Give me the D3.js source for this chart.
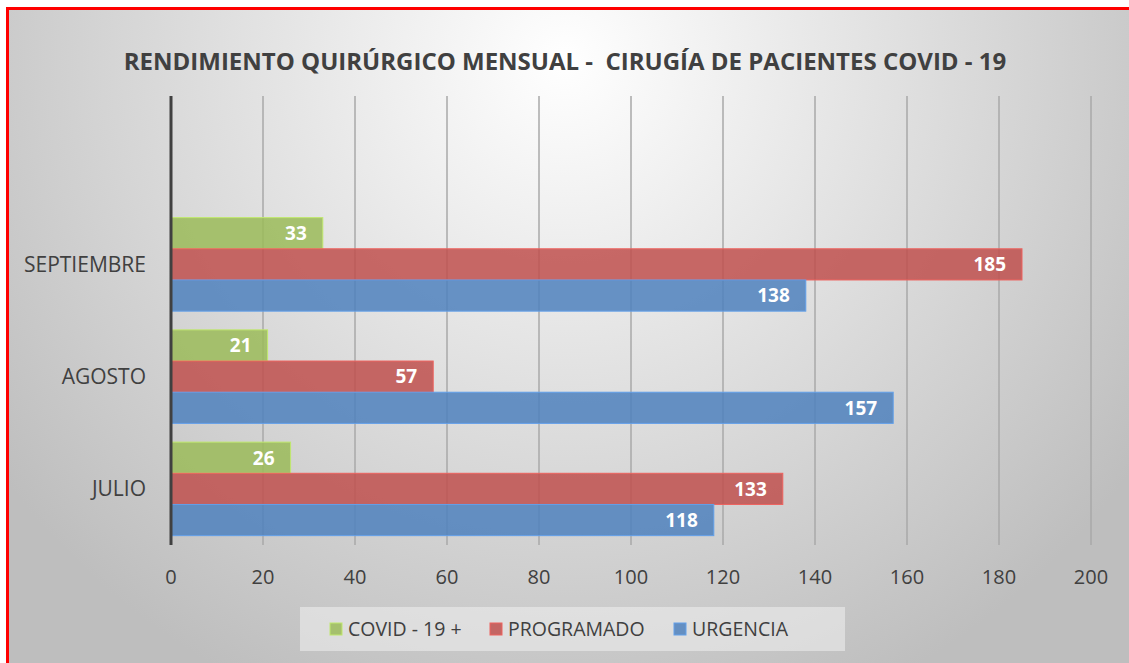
<!doctype html>
<html lang="es">
  <head>
    <meta charset="utf-8">
    <title>Rendimiento quirúrgico mensual</title>
    <script src="https://d3js.org/d3.v7.min.js"></script>
    <style>
    body { margin: 0; }
    text { font-family: "Open Sans", sans-serif; fill: #404040; }
    .grid line { stroke: #a8a8a8; stroke-width: 1.5; }
    .label { fill: #fff; font-weight: bold; }
    </style>
  </head>
  <body>
    <svg width="1129" height="663"></svg>

    <script>
      // data
      var months = ['JULIO', 'AGOSTO', 'SEPTIEMBRE'];
      var seriesNames = ['COVID - 19 +', 'PROGRAMADO', 'URGENCIA'];
      var covid = [26, 21, 33];
      var programado = [133, 57, 185];
      var urgencia = [118, 157, 138];
      var xTicks = [0, 20, 40, 60, 80, 100, 120, 140, 160, 180, 200];
      var colors = ['#9bbb59', '#c0504d', '#4f81bd'];
      var title = 'RENDIMIENTO QUIRÚRGICO MENSUAL -  CIRUGÍA DE PACIENTES COVID - 19';

      var svg = d3.select('svg');
      var defs = svg.append('defs');

      var grad = defs.append('radialGradient')
        .attr('id', 'bg')
        .attr('gradientUnits', 'userSpaceOnUse')
        .attr('cx', 565).attr('cy', 60).attr('r', 700);
      grad.append('stop').attr('offset', '0%').attr('stop-color', '#ffffff');
      grad.append('stop').attr('offset', '100%').attr('stop-color', '#bebebe');

      svg.append('rect')
        .attr('x', 7.5).attr('y', 8.5)
        .attr('width', 1140).attr('height', 680)
        .attr('fill', 'url(#bg)')
        .attr('stroke', '#ff0000')
        .attr('stroke-width', 3);

      svg.append('text')
        .attr('x', 565).attr('y', 70)
        .attr('text-anchor', 'middle')
        .style('white-space', 'pre')
        .style('font-weight', 'bold')
        .style('font-size', '24px')
        .text(title);

      var x = d3.scaleLinear().domain([0, 200]).range([171, 1091]);

      // one blank slot on top, like the source sheet
      var y = d3.scaleBand().domain(months.concat([''])).range([545, 96]);

      var y1 = d3.scaleBand().domain(seriesNames)
        .range([0, y.bandwidth()])
        .paddingOuter(0.3);

      // gridlines
      svg.append('g').attr('class', 'grid')
        .selectAll('line').data(xTicks.slice(1))
        .enter().append('line')
          .attr('x1', function(d){ return x(d); })
          .attr('x2', function(d){ return x(d); })
          .attr('y1', 96).attr('y2', 545);

      var rows = months.map(function(m, i){
        return { month: m, values: [covid[i], programado[i], urgencia[i]] };
      });

      var group = svg.selectAll('.month').data(rows)
        .enter().append('g')
          .attr('class', 'month')
          .attr('transform', function(d){ return 'translate(0,' + y(d.month) + ')'; });

      var bar = group.selectAll('g.bar')
        .data(function(d){
          return d.values.map(function(v, j){ return { s: seriesNames[j], v: v, c: colors[j] }; });
        })
        .enter().append('g').attr('class', 'bar');

      bar.append('rect')
        .attr('x', x(0))
        .attr('y', function(d){ return y1(d.s); })
        .attr('width', function(d){ return x(d.v) - x(0); })
        .attr('height', y1.bandwidth())
        .attr('fill', function(d){ return d.c; })
        .attr('fill-opacity', 0.85)
        .attr('stroke', function(d){ return d3.color(d.c).brighter(0.6); })
        .attr('stroke-width', 1);

      bar.append('text')
        .attr('class', 'label')
        .attr('x', function(d){ return x(d.v) - 16; })
        .attr('y', function(d){ return y1(d.s) + y1.bandwidth() / 2; })
        .attr('dy', '0.36em')
        .attr('text-anchor', 'end')
        .style('font-size', '19px')
        .text(function(d){ return d.v; });

      // zero axis line
      svg.append('line')
        .attr('x1', x(0)).attr('x2', x(0))
        .attr('y1', 96).attr('y2', 545)
        .attr('stroke', '#404040')
        .attr('stroke-width', 3);

      // tick labels
      svg.append('g').selectAll('text').data(xTicks)
        .enter().append('text')
          .attr('x', function(d){ return x(d); })
          .attr('y', 584)
          .attr('text-anchor', 'middle')
          .style('font-size', '20px')
          .text(function(d){ return d; });

      svg.append('g').selectAll('text').data(months)
        .enter().append('text')
          .attr('x', 146)
          .attr('y', function(d){ return y(d) + y.bandwidth() / 2; })
          .attr('dy', '0.36em')
          .attr('text-anchor', 'end')
          .style('font-size', '21px')
          .text(function(d){ return d; });

      // legend
      svg.append('rect')
        .attr('x', 300).attr('y', 607)
        .attr('width', 545).attr('height', 44)
        .attr('fill', '#ececec').attr('fill-opacity', 0.6);

      var legendX = [330, 490, 674];
      var legend = svg.selectAll('.legend').data(seriesNames)
        .enter().append('g')
          .attr('class', 'legend')
          .attr('transform', function(d, i){ return 'translate(' + legendX[i] + ',629)'; });

      legend.append('rect')
        .attr('x', 0).attr('y', -6)
        .attr('width', 12).attr('height', 12)
        .attr('fill', function(d, i){ return colors[i]; })
        .attr('fill-opacity', 0.85)
        .attr('stroke', function(d, i){ return d3.color(colors[i]).brighter(0.6); });

      legend.append('text')
        .attr('x', 18).attr('dy', '0.36em')
        .style('font-size', '19.5px')
        .text(function(d){ return d; });
    </script>
  </body>
</html>
